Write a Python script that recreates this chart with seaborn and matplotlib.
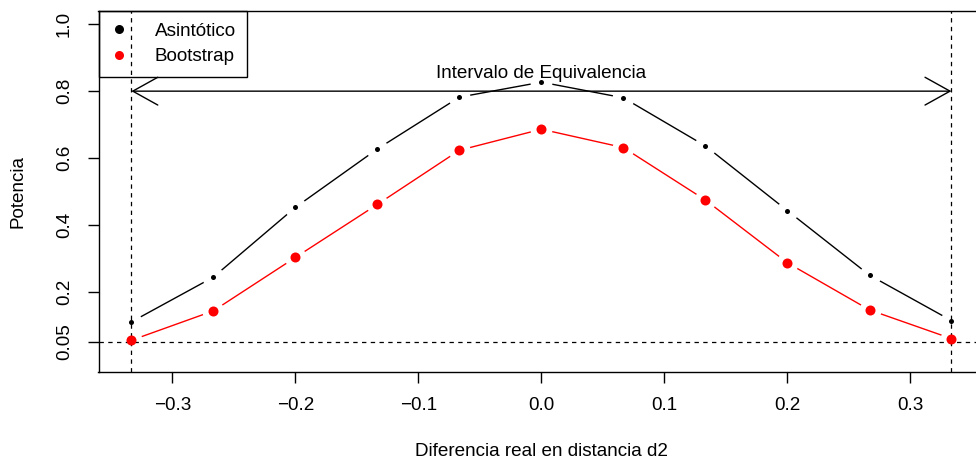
import numpy as np
import pandas as pd
import seaborn as sns
import matplotlib
matplotlib.use("Agg")
import matplotlib.pyplot as plt
from matplotlib.lines import Line2D

# differences (real d2) and power values
diferencia = [-0.3333, -0.2667, -0.2, -0.1333, -0.0667, 0.0, 0.0667, 0.1333, 0.2, 0.2667, 0.3333]
asintotico = [0.109, 0.243, 0.452, 0.627, 0.782, 0.827, 0.780, 0.636, 0.442, 0.249, 0.113]
bootstrap = [0.054, 0.142, 0.302, 0.461, 0.623, 0.686, 0.631, 0.474, 0.286, 0.145, 0.059]
limite = 0.3333
nivel = 0.05
y_ticks = [0.05, 0.2, 0.4, 0.6, 0.8, 1.0]
y_ticklabels = ["0.05", "0.2", "0.4", "0.6", "0.8", "1.0"]
x_ticks = [-0.3, -0.2, -0.1, 0.0, 0.1, 0.2, 0.3]

df = pd.DataFrame({"d": diferencia, "Asintótico": asintotico, "Bootstrap": bootstrap})

sns.set_style("ticks")
plt.rcParams["font.family"] = ["Liberation Sans", "DejaVu Sans"]
plt.rcParams.update({"text.color": "black", "axes.labelcolor": "black",
                     "xtick.color": "black", "ytick.color": "black"})
fs = 13.6

fig = plt.figure(figsize=(9.76, 4.66), dpi=100)
ax = fig.add_axes([98.5 / 976, (466 - 371.7) / 466, 885.8 / 976, 360.7 / 466])

# lines, then white masks to mimic R's type="b" gaps
sns.lineplot(data=df, x="d", y="Asintótico", color="black", lw=1.0, ax=ax, zorder=1)
sns.lineplot(data=df, x="d", y="Bootstrap", color="red", lw=1.0, ax=ax, zorder=1)
for col in ["Asintótico", "Bootstrap"]:
    sns.scatterplot(data=df, x="d", y=col, color="white", s=250, linewidth=0, ax=ax, zorder=2)

# reference lines
ax.axhline(nivel, color="black", lw=0.9, ls=(0, (3.5, 3.5)), zorder=3)
for v in [-limite, limite]:
    ax.axvline(v, color="black", lw=0.9, ls=(0, (3.5, 3.5)), zorder=3)

ax.annotate("", xy=(limite, 0.8), xytext=(-limite, 0.8),
            arrowprops=dict(arrowstyle="<->,head_length=1.8,head_width=1.0",
                            color="black", lw=1.0, shrinkA=0, shrinkB=0),
            zorder=3)
ax.text(0, 0.853, "Intervalo de Equivalencia", ha="center", va="center", fontsize=fs, zorder=5)

sns.scatterplot(data=df, x="d", y="Asintótico", color="black", s=13, linewidth=0, ax=ax, zorder=4)
sns.scatterplot(data=df, x="d", y="Bootstrap", color="red", s=52, linewidth=0, ax=ax, zorder=4)

ax.set_xlim(-0.36, 0.36)
ax.set_ylim(-0.04, 1.04)
ax.set_xticks(x_ticks)
ax.set_xticklabels([f"{t:.1f}".replace("-", "\u2212") for t in x_ticks], fontsize=fs)
ax.set_yticks(y_ticks)
ax.set_yticklabels(y_ticklabels, fontsize=fs, rotation=90, va="center")
ax.tick_params(axis="x", length=8, width=1, pad=10, color="black")
ax.tick_params(axis="y", length=8, width=1, pad=10.5, color="black")
for side in ["left", "bottom", "top", "right"]:
    ax.spines[side].set_color("black")
    ax.spines[side].set_linewidth(1.0)

ax.set_xlabel("Diferencia real en distancia d2", fontsize=fs, va="center")
ax.set_ylabel("Potencia", fontsize=fs, va="center", ha="center")
ax.xaxis.set_label_coords(0.5, (371.7 - 452) / 360.7)
ax.yaxis.set_label_coords((18 - 98.5) / 885.8, 0.5)

handles = [
    Line2D([], [], marker="o", ls="", color="black", markersize=6.5, markeredgewidth=0),
    Line2D([], [], marker="o", ls="", color="red", markersize=6.5, markeredgewidth=0),
]
leg = ax.legend(handles, ["Asintótico", "Bootstrap"], loc="upper left", fontsize=fs,
                borderaxespad=0, frameon=True, fancybox=False, framealpha=1,
                facecolor="none", edgecolor="black", handletextpad=1.39,
                labelspacing=0.45, borderpad=0.6, handlelength=1.0)
leg.get_frame().set_linewidth(1.0)
leg.set_zorder(6)

fig.savefig("out.png", dpi=100)
